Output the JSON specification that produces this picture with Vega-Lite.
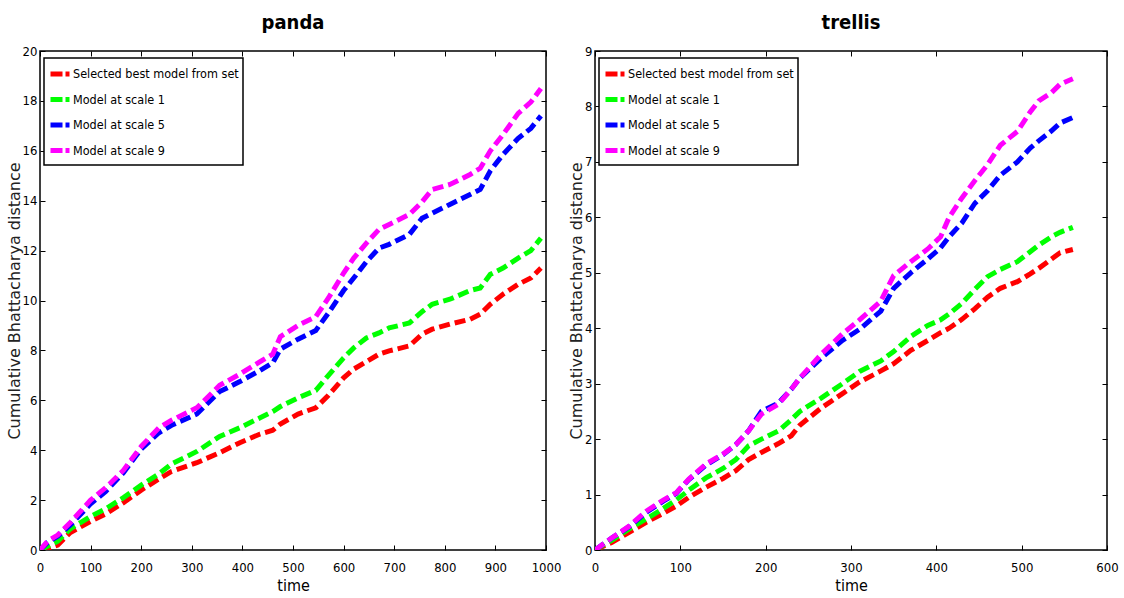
{
  "$schema": "https://vega.github.io/schema/vega-lite/v6.json",
  "padding": {"left": 5, "top": 12, "right": 2, "bottom": 2},
  "background": "white",
  "config": {
    "view": {"stroke": "black", "strokeWidth": 1.5},
    "font": "'DejaVu Sans Condensed', 'Liberation Sans', sans-serif",
    "axis": {"grid": false, "domain": false, "tickColor": "black", "tickSize": -5, "tickWidth": 1, "labelFont": "'DejaVu Sans Condensed', 'Liberation Sans', sans-serif", "labelFontSize": 13, "labelColor": "black", "titleFontWeight": "normal", "titleColor": "black", "format": "d"},
    "title": {"font": "'DejaVu Sans Condensed', 'Liberation Sans', sans-serif", "fontSize": 20, "fontWeight": "bold", "color": "black", "offset": 12},
    "legend": {"orient": "none", "legendX": 4, "legendY": 7, "padding": 4, "strokeColor": "black", "fillColor": "white", "strokeWidth": 1.5, "title": null, "labelFont": "'DejaVu Sans Condensed', 'Liberation Sans', sans-serif", "labelFontSize": 12.5, "labelColor": "black", "labelLimit": 300, "symbolType": "stroke", "symbolSize": 361, "symbolStrokeWidth": 5, "symbolDash": [12, 3], "rowPadding": 3.5, "labelOffset": 1, "cornerRadius": 0}
  },
  "resolve": {"legend": {"color": "independent"}},
  "spacing": 5,
  "datasets": {
    "panda": [
      {"model": "Selected best model from set", "t": 0, "v": 0}, {"model": "Selected best model from set", "t": 15, "v": 0.05}, {"model": "Selected best model from set", "t": 35, "v": 0.2}, {"model": "Selected best model from set", "t": 60, "v": 0.7}, {"model": "Selected best model from set", "t": 100, "v": 1.15}, {"model": "Selected best model from set", "t": 130, "v": 1.45}, {"model": "Selected best model from set", "t": 165, "v": 1.9}, {"model": "Selected best model from set", "t": 200, "v": 2.4}, {"model": "Selected best model from set", "t": 235, "v": 2.85}, {"model": "Selected best model from set", "t": 260, "v": 3.15}, {"model": "Selected best model from set", "t": 310, "v": 3.5}, {"model": "Selected best model from set", "t": 355, "v": 3.9}, {"model": "Selected best model from set", "t": 395, "v": 4.3}, {"model": "Selected best model from set", "t": 435, "v": 4.65}, {"model": "Selected best model from set", "t": 460, "v": 4.8}, {"model": "Selected best model from set", "t": 475, "v": 5.05}, {"model": "Selected best model from set", "t": 510, "v": 5.45}, {"model": "Selected best model from set", "t": 545, "v": 5.7}, {"model": "Selected best model from set", "t": 570, "v": 6.2}, {"model": "Selected best model from set", "t": 600, "v": 6.9}, {"model": "Selected best model from set", "t": 620, "v": 7.25}, {"model": "Selected best model from set", "t": 645, "v": 7.55}, {"model": "Selected best model from set", "t": 670, "v": 7.85}, {"model": "Selected best model from set", "t": 690, "v": 7.98}, {"model": "Selected best model from set", "t": 730, "v": 8.18}, {"model": "Selected best model from set", "t": 755, "v": 8.65}, {"model": "Selected best model from set", "t": 775, "v": 8.85}, {"model": "Selected best model from set", "t": 810, "v": 9.05}, {"model": "Selected best model from set", "t": 850, "v": 9.25}, {"model": "Selected best model from set", "t": 870, "v": 9.45}, {"model": "Selected best model from set", "t": 890, "v": 9.85}, {"model": "Selected best model from set", "t": 915, "v": 10.25}, {"model": "Selected best model from set", "t": 945, "v": 10.65}, {"model": "Selected best model from set", "t": 970, "v": 10.9}, {"model": "Selected best model from set", "t": 990, "v": 11.3},
      {"model": "Model at scale 1", "t": 0, "v": 0}, {"model": "Model at scale 1", "t": 15, "v": 0.15}, {"model": "Model at scale 1", "t": 35, "v": 0.35}, {"model": "Model at scale 1", "t": 60, "v": 0.85}, {"model": "Model at scale 1", "t": 100, "v": 1.35}, {"model": "Model at scale 1", "t": 130, "v": 1.65}, {"model": "Model at scale 1", "t": 165, "v": 2.1}, {"model": "Model at scale 1", "t": 200, "v": 2.6}, {"model": "Model at scale 1", "t": 235, "v": 3.05}, {"model": "Model at scale 1", "t": 260, "v": 3.45}, {"model": "Model at scale 1", "t": 310, "v": 3.95}, {"model": "Model at scale 1", "t": 355, "v": 4.55}, {"model": "Model at scale 1", "t": 395, "v": 4.9}, {"model": "Model at scale 1", "t": 435, "v": 5.3}, {"model": "Model at scale 1", "t": 460, "v": 5.55}, {"model": "Model at scale 1", "t": 475, "v": 5.75}, {"model": "Model at scale 1", "t": 510, "v": 6.1}, {"model": "Model at scale 1", "t": 545, "v": 6.4}, {"model": "Model at scale 1", "t": 570, "v": 7.0}, {"model": "Model at scale 1", "t": 600, "v": 7.7}, {"model": "Model at scale 1", "t": 620, "v": 8.1}, {"model": "Model at scale 1", "t": 645, "v": 8.5}, {"model": "Model at scale 1", "t": 670, "v": 8.7}, {"model": "Model at scale 1", "t": 690, "v": 8.9}, {"model": "Model at scale 1", "t": 730, "v": 9.1}, {"model": "Model at scale 1", "t": 755, "v": 9.55}, {"model": "Model at scale 1", "t": 775, "v": 9.85}, {"model": "Model at scale 1", "t": 810, "v": 10.05}, {"model": "Model at scale 1", "t": 850, "v": 10.4}, {"model": "Model at scale 1", "t": 870, "v": 10.5}, {"model": "Model at scale 1", "t": 890, "v": 11.05}, {"model": "Model at scale 1", "t": 915, "v": 11.3}, {"model": "Model at scale 1", "t": 945, "v": 11.7}, {"model": "Model at scale 1", "t": 970, "v": 12.0}, {"model": "Model at scale 1", "t": 990, "v": 12.5},
      {"model": "Model at scale 5", "t": 0, "v": 0}, {"model": "Model at scale 5", "t": 15, "v": 0.3}, {"model": "Model at scale 5", "t": 35, "v": 0.55}, {"model": "Model at scale 5", "t": 60, "v": 1.0}, {"model": "Model at scale 5", "t": 100, "v": 1.85}, {"model": "Model at scale 5", "t": 130, "v": 2.35}, {"model": "Model at scale 5", "t": 165, "v": 3.1}, {"model": "Model at scale 5", "t": 200, "v": 4.05}, {"model": "Model at scale 5", "t": 235, "v": 4.7}, {"model": "Model at scale 5", "t": 260, "v": 5.0}, {"model": "Model at scale 5", "t": 310, "v": 5.45}, {"model": "Model at scale 5", "t": 355, "v": 6.35}, {"model": "Model at scale 5", "t": 395, "v": 6.75}, {"model": "Model at scale 5", "t": 435, "v": 7.2}, {"model": "Model at scale 5", "t": 460, "v": 7.5}, {"model": "Model at scale 5", "t": 475, "v": 8.05}, {"model": "Model at scale 5", "t": 510, "v": 8.45}, {"model": "Model at scale 5", "t": 545, "v": 8.8}, {"model": "Model at scale 5", "t": 570, "v": 9.5}, {"model": "Model at scale 5", "t": 600, "v": 10.4}, {"model": "Model at scale 5", "t": 620, "v": 10.9}, {"model": "Model at scale 5", "t": 645, "v": 11.55}, {"model": "Model at scale 5", "t": 670, "v": 12.1}, {"model": "Model at scale 5", "t": 690, "v": 12.25}, {"model": "Model at scale 5", "t": 730, "v": 12.65}, {"model": "Model at scale 5", "t": 755, "v": 13.3}, {"model": "Model at scale 5", "t": 775, "v": 13.5}, {"model": "Model at scale 5", "t": 810, "v": 13.85}, {"model": "Model at scale 5", "t": 850, "v": 14.25}, {"model": "Model at scale 5", "t": 870, "v": 14.45}, {"model": "Model at scale 5", "t": 890, "v": 15.2}, {"model": "Model at scale 5", "t": 915, "v": 15.85}, {"model": "Model at scale 5", "t": 945, "v": 16.5}, {"model": "Model at scale 5", "t": 970, "v": 16.9}, {"model": "Model at scale 5", "t": 990, "v": 17.4},
      {"model": "Model at scale 9", "t": 0, "v": 0}, {"model": "Model at scale 9", "t": 15, "v": 0.35}, {"model": "Model at scale 9", "t": 35, "v": 0.6}, {"model": "Model at scale 9", "t": 60, "v": 1.1}, {"model": "Model at scale 9", "t": 100, "v": 2.0}, {"model": "Model at scale 9", "t": 130, "v": 2.5}, {"model": "Model at scale 9", "t": 165, "v": 3.2}, {"model": "Model at scale 9", "t": 200, "v": 4.15}, {"model": "Model at scale 9", "t": 235, "v": 4.9}, {"model": "Model at scale 9", "t": 260, "v": 5.2}, {"model": "Model at scale 9", "t": 310, "v": 5.7}, {"model": "Model at scale 9", "t": 355, "v": 6.6}, {"model": "Model at scale 9", "t": 395, "v": 7.05}, {"model": "Model at scale 9", "t": 435, "v": 7.55}, {"model": "Model at scale 9", "t": 460, "v": 7.85}, {"model": "Model at scale 9", "t": 475, "v": 8.55}, {"model": "Model at scale 9", "t": 510, "v": 9.0}, {"model": "Model at scale 9", "t": 545, "v": 9.35}, {"model": "Model at scale 9", "t": 570, "v": 10.1}, {"model": "Model at scale 9", "t": 600, "v": 11.1}, {"model": "Model at scale 9", "t": 620, "v": 11.7}, {"model": "Model at scale 9", "t": 645, "v": 12.3}, {"model": "Model at scale 9", "t": 670, "v": 12.85}, {"model": "Model at scale 9", "t": 690, "v": 13.05}, {"model": "Model at scale 9", "t": 730, "v": 13.45}, {"model": "Model at scale 9", "t": 755, "v": 13.95}, {"model": "Model at scale 9", "t": 775, "v": 14.45}, {"model": "Model at scale 9", "t": 810, "v": 14.65}, {"model": "Model at scale 9", "t": 850, "v": 15.05}, {"model": "Model at scale 9", "t": 870, "v": 15.3}, {"model": "Model at scale 9", "t": 890, "v": 16.0}, {"model": "Model at scale 9", "t": 915, "v": 16.65}, {"model": "Model at scale 9", "t": 945, "v": 17.5}, {"model": "Model at scale 9", "t": 970, "v": 17.95}, {"model": "Model at scale 9", "t": 990, "v": 18.5}
    ],
    "trellis": [
      {"model": "Selected best model from set", "t": 0, "v": 0}, {"model": "Selected best model from set", "t": 20, "v": 0.14}, {"model": "Selected best model from set", "t": 40, "v": 0.32}, {"model": "Selected best model from set", "t": 60, "v": 0.5}, {"model": "Selected best model from set", "t": 80, "v": 0.66}, {"model": "Selected best model from set", "t": 95, "v": 0.79}, {"model": "Selected best model from set", "t": 110, "v": 0.95}, {"model": "Selected best model from set", "t": 130, "v": 1.13}, {"model": "Selected best model from set", "t": 150, "v": 1.29}, {"model": "Selected best model from set", "t": 165, "v": 1.43}, {"model": "Selected best model from set", "t": 180, "v": 1.63}, {"model": "Selected best model from set", "t": 195, "v": 1.76}, {"model": "Selected best model from set", "t": 215, "v": 1.92}, {"model": "Selected best model from set", "t": 230, "v": 2.06}, {"model": "Selected best model from set", "t": 240, "v": 2.25}, {"model": "Selected best model from set", "t": 265, "v": 2.56}, {"model": "Selected best model from set", "t": 290, "v": 2.82}, {"model": "Selected best model from set", "t": 310, "v": 3.03}, {"model": "Selected best model from set", "t": 335, "v": 3.23}, {"model": "Selected best model from set", "t": 350, "v": 3.36}, {"model": "Selected best model from set", "t": 370, "v": 3.6}, {"model": "Selected best model from set", "t": 390, "v": 3.78}, {"model": "Selected best model from set", "t": 405, "v": 3.92}, {"model": "Selected best model from set", "t": 415, "v": 4.0}, {"model": "Selected best model from set", "t": 430, "v": 4.16}, {"model": "Selected best model from set", "t": 445, "v": 4.35}, {"model": "Selected best model from set", "t": 460, "v": 4.56}, {"model": "Selected best model from set", "t": 475, "v": 4.72}, {"model": "Selected best model from set", "t": 495, "v": 4.84}, {"model": "Selected best model from set", "t": 510, "v": 4.98}, {"model": "Selected best model from set", "t": 520, "v": 5.08}, {"model": "Selected best model from set", "t": 535, "v": 5.25}, {"model": "Selected best model from set", "t": 545, "v": 5.36}, {"model": "Selected best model from set", "t": 560, "v": 5.42},
      {"model": "Model at scale 1", "t": 0, "v": 0}, {"model": "Model at scale 1", "t": 20, "v": 0.18}, {"model": "Model at scale 1", "t": 40, "v": 0.38}, {"model": "Model at scale 1", "t": 60, "v": 0.56}, {"model": "Model at scale 1", "t": 80, "v": 0.75}, {"model": "Model at scale 1", "t": 95, "v": 0.9}, {"model": "Model at scale 1", "t": 110, "v": 1.08}, {"model": "Model at scale 1", "t": 130, "v": 1.3}, {"model": "Model at scale 1", "t": 150, "v": 1.47}, {"model": "Model at scale 1", "t": 165, "v": 1.63}, {"model": "Model at scale 1", "t": 180, "v": 1.88}, {"model": "Model at scale 1", "t": 195, "v": 2.0}, {"model": "Model at scale 1", "t": 215, "v": 2.15}, {"model": "Model at scale 1", "t": 230, "v": 2.35}, {"model": "Model at scale 1", "t": 240, "v": 2.5}, {"model": "Model at scale 1", "t": 265, "v": 2.74}, {"model": "Model at scale 1", "t": 290, "v": 3.0}, {"model": "Model at scale 1", "t": 310, "v": 3.22}, {"model": "Model at scale 1", "t": 335, "v": 3.41}, {"model": "Model at scale 1", "t": 350, "v": 3.58}, {"model": "Model at scale 1", "t": 370, "v": 3.85}, {"model": "Model at scale 1", "t": 390, "v": 4.05}, {"model": "Model at scale 1", "t": 405, "v": 4.15}, {"model": "Model at scale 1", "t": 415, "v": 4.26}, {"model": "Model at scale 1", "t": 430, "v": 4.45}, {"model": "Model at scale 1", "t": 445, "v": 4.7}, {"model": "Model at scale 1", "t": 460, "v": 4.93}, {"model": "Model at scale 1", "t": 475, "v": 5.06}, {"model": "Model at scale 1", "t": 495, "v": 5.2}, {"model": "Model at scale 1", "t": 510, "v": 5.38}, {"model": "Model at scale 1", "t": 520, "v": 5.5}, {"model": "Model at scale 1", "t": 535, "v": 5.65}, {"model": "Model at scale 1", "t": 545, "v": 5.73}, {"model": "Model at scale 1", "t": 560, "v": 5.82},
      {"model": "Model at scale 5", "t": 0, "v": 0}, {"model": "Model at scale 5", "t": 20, "v": 0.22}, {"model": "Model at scale 5", "t": 40, "v": 0.42}, {"model": "Model at scale 5", "t": 60, "v": 0.68}, {"model": "Model at scale 5", "t": 80, "v": 0.88}, {"model": "Model at scale 5", "t": 95, "v": 1.02}, {"model": "Model at scale 5", "t": 110, "v": 1.27}, {"model": "Model at scale 5", "t": 130, "v": 1.53}, {"model": "Model at scale 5", "t": 150, "v": 1.72}, {"model": "Model at scale 5", "t": 165, "v": 1.9}, {"model": "Model at scale 5", "t": 180, "v": 2.15}, {"model": "Model at scale 5", "t": 195, "v": 2.5}, {"model": "Model at scale 5", "t": 215, "v": 2.65}, {"model": "Model at scale 5", "t": 230, "v": 2.9}, {"model": "Model at scale 5", "t": 240, "v": 3.1}, {"model": "Model at scale 5", "t": 265, "v": 3.46}, {"model": "Model at scale 5", "t": 290, "v": 3.78}, {"model": "Model at scale 5", "t": 310, "v": 3.98}, {"model": "Model at scale 5", "t": 335, "v": 4.31}, {"model": "Model at scale 5", "t": 350, "v": 4.72}, {"model": "Model at scale 5", "t": 370, "v": 5.0}, {"model": "Model at scale 5", "t": 390, "v": 5.25}, {"model": "Model at scale 5", "t": 405, "v": 5.45}, {"model": "Model at scale 5", "t": 415, "v": 5.65}, {"model": "Model at scale 5", "t": 430, "v": 5.9}, {"model": "Model at scale 5", "t": 445, "v": 6.25}, {"model": "Model at scale 5", "t": 460, "v": 6.48}, {"model": "Model at scale 5", "t": 475, "v": 6.76}, {"model": "Model at scale 5", "t": 495, "v": 7.0}, {"model": "Model at scale 5", "t": 510, "v": 7.25}, {"model": "Model at scale 5", "t": 520, "v": 7.38}, {"model": "Model at scale 5", "t": 535, "v": 7.56}, {"model": "Model at scale 5", "t": 545, "v": 7.7}, {"model": "Model at scale 5", "t": 560, "v": 7.8},
      {"model": "Model at scale 9", "t": 0, "v": 0}, {"model": "Model at scale 9", "t": 20, "v": 0.22}, {"model": "Model at scale 9", "t": 40, "v": 0.43}, {"model": "Model at scale 9", "t": 60, "v": 0.7}, {"model": "Model at scale 9", "t": 80, "v": 0.9}, {"model": "Model at scale 9", "t": 95, "v": 1.03}, {"model": "Model at scale 9", "t": 110, "v": 1.28}, {"model": "Model at scale 9", "t": 130, "v": 1.55}, {"model": "Model at scale 9", "t": 150, "v": 1.73}, {"model": "Model at scale 9", "t": 165, "v": 1.9}, {"model": "Model at scale 9", "t": 180, "v": 2.15}, {"model": "Model at scale 9", "t": 195, "v": 2.45}, {"model": "Model at scale 9", "t": 215, "v": 2.63}, {"model": "Model at scale 9", "t": 230, "v": 2.9}, {"model": "Model at scale 9", "t": 240, "v": 3.1}, {"model": "Model at scale 9", "t": 265, "v": 3.53}, {"model": "Model at scale 9", "t": 290, "v": 3.9}, {"model": "Model at scale 9", "t": 310, "v": 4.15}, {"model": "Model at scale 9", "t": 335, "v": 4.49}, {"model": "Model at scale 9", "t": 350, "v": 4.95}, {"model": "Model at scale 9", "t": 370, "v": 5.2}, {"model": "Model at scale 9", "t": 390, "v": 5.43}, {"model": "Model at scale 9", "t": 405, "v": 5.65}, {"model": "Model at scale 9", "t": 415, "v": 6.0}, {"model": "Model at scale 9", "t": 430, "v": 6.35}, {"model": "Model at scale 9", "t": 445, "v": 6.66}, {"model": "Model at scale 9", "t": 460, "v": 6.95}, {"model": "Model at scale 9", "t": 475, "v": 7.3}, {"model": "Model at scale 9", "t": 495, "v": 7.55}, {"model": "Model at scale 9", "t": 510, "v": 7.9}, {"model": "Model at scale 9", "t": 520, "v": 8.1}, {"model": "Model at scale 9", "t": 535, "v": 8.25}, {"model": "Model at scale 9", "t": 545, "v": 8.4}, {"model": "Model at scale 9", "t": 560, "v": 8.5}
    ]
  },
  "hconcat": [
    {
      "title": {"text": "panda"},
      "width": 506,
      "height": 499,
      "data": {"name": "panda"},
      "resolve": {"axis": {"x": "independent", "y": "independent"}},
      "layer": [
        {
          "mark": {"type": "line", "strokeWidth": 5, "strokeDash": [11, 5], "strokeCap": "butt", "clip": true},
          "encoding": {
            "x": {"field": "t", "type": "quantitative", "scale": {"domain": [0, 1000], "nice": false}, "axis": {"orient": "bottom", "values": [0,100,200,300,400,500,600,700,800,900,1000], "title": "time", "titleFontSize": 16, "titlePadding": 3, "labelPadding": 16, "labelFlush": false}},
            "y": {"field": "v", "type": "quantitative", "scale": {"domain": [0, 20], "nice": false}, "axis": {"orient": "left", "values": [0,2,4,6,8,10,12,14,16,18,20], "title": "Cumulative Bhattacharya distance", "titleFont": "DejaVu Sans", "titleFontSize": 16, "titleColor": "#222222", "titlePadding": 0, "labelPadding": 8}},
            "color": {"field": "model", "type": "nominal", "sort": ["Selected best model from set", "Model at scale 1", "Model at scale 5", "Model at scale 9"], "scale": {"domain": ["Selected best model from set", "Model at scale 1", "Model at scale 5", "Model at scale 9"], "range": ["#ff0000", "#00ff00", "#0000ff", "#ff00ff"]}},
            "order": {"field": "t", "type": "quantitative"}
          }
        },
        {
          "mark": {"type": "point", "opacity": 0},
          "encoding": {
            "x": {"field": "t", "type": "quantitative", "axis": {"orient": "top", "values": [0,100,200,300,400,500,600,700,800,900,1000], "labels": false, "title": null}},
            "y": {"field": "v", "type": "quantitative", "axis": {"orient": "right", "values": [0,2,4,6,8,10,12,14,16,18,20], "labels": false, "title": null}}
          }
        }
      ]
    },
    {
      "title": {"text": "trellis"},
      "width": 512,
      "height": 499,
      "data": {"name": "trellis"},
      "resolve": {"axis": {"x": "independent", "y": "independent"}},
      "layer": [
        {
          "mark": {"type": "line", "strokeWidth": 5, "strokeDash": [11, 5], "strokeCap": "butt", "clip": true},
          "encoding": {
            "x": {"field": "t", "type": "quantitative", "scale": {"domain": [0, 600], "nice": false}, "axis": {"orient": "bottom", "values": [0,100,200,300,400,500,600], "title": "time", "titleFontSize": 16, "titlePadding": 3, "labelPadding": 16, "labelFlush": false}},
            "y": {"field": "v", "type": "quantitative", "scale": {"domain": [0, 9], "nice": false}, "axis": {"orient": "left", "values": [0,1,2,3,4,5,6,7,8,9], "title": "Cumulative Bhattacharya distance", "titleFont": "DejaVu Sans", "titleFontSize": 16, "titleColor": "#222222", "titlePadding": 0, "labelPadding": 8}},
            "color": {"field": "model", "type": "nominal", "sort": ["Selected best model from set", "Model at scale 1", "Model at scale 5", "Model at scale 9"], "scale": {"domain": ["Selected best model from set", "Model at scale 1", "Model at scale 5", "Model at scale 9"], "range": ["#ff0000", "#00ff00", "#0000ff", "#ff00ff"]}},
            "order": {"field": "t", "type": "quantitative"}
          }
        },
        {
          "mark": {"type": "point", "opacity": 0},
          "encoding": {
            "x": {"field": "t", "type": "quantitative", "axis": {"orient": "top", "values": [0,100,200,300,400,500,600], "labels": false, "title": null}},
            "y": {"field": "v", "type": "quantitative", "axis": {"orient": "right", "values": [0,1,2,3,4,5,6,7,8,9], "labels": false, "title": null}}
          }
        }
      ]
    }
  ]
}
